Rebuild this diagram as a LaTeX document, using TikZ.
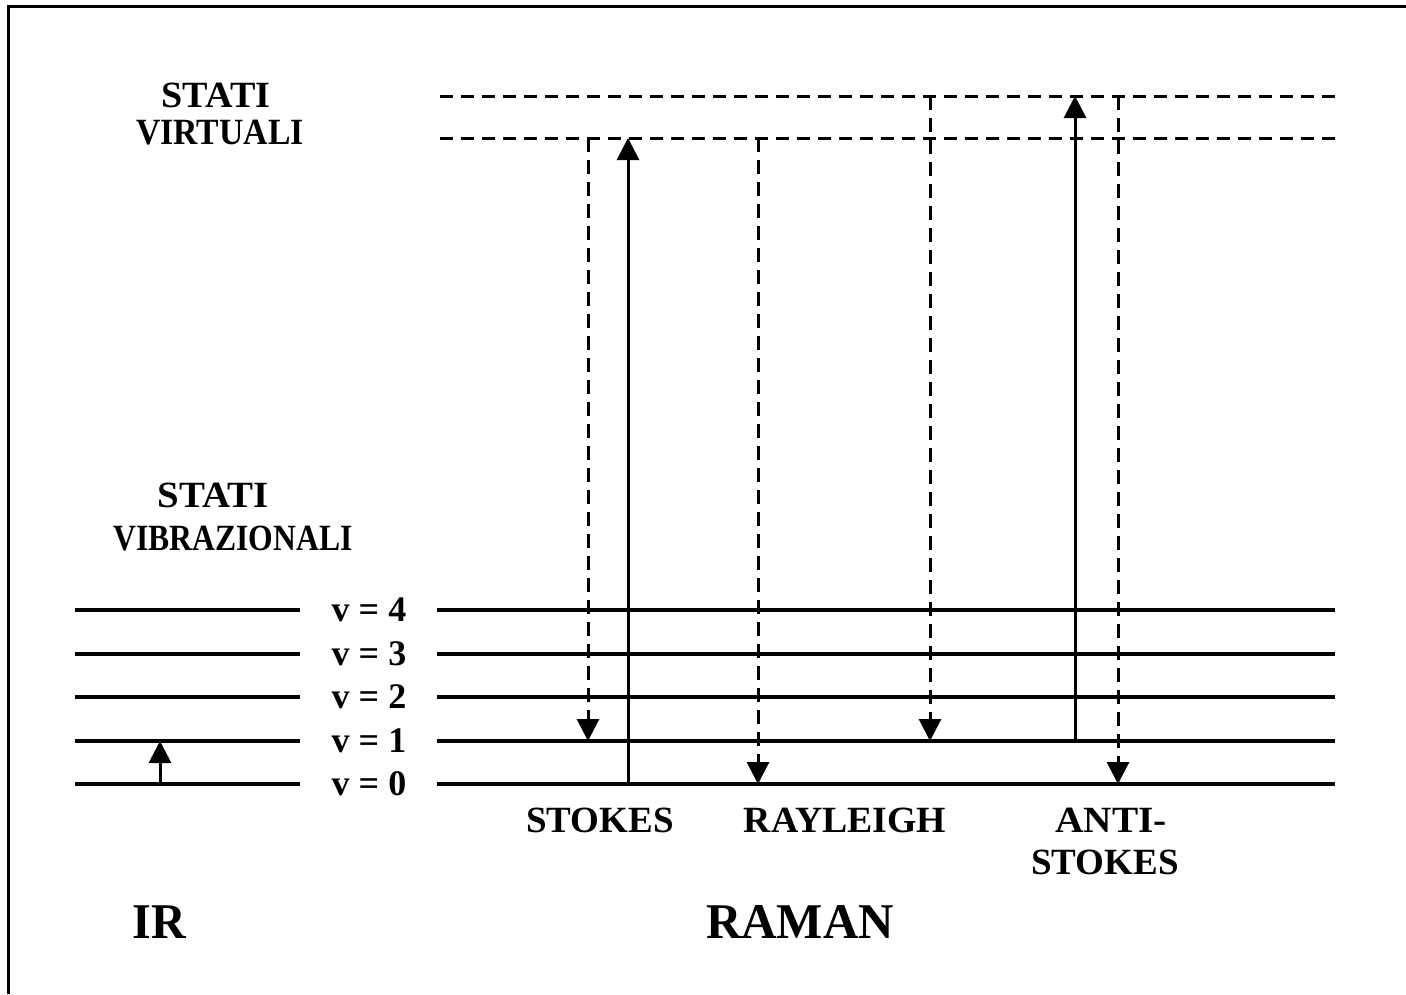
\documentclass[tikz,border=0pt]{standalone}
\usepackage{graphicx}
\usepackage{fontspec}
\setmainfont{Liberation Serif}
\usetikzlibrary{arrows.meta}
\newcommand{\hs}[2]{\scalebox{#1}[1]{#2}}
\begin{document}
\begin{tikzpicture}[x=1pt,y=-1pt,
  lvl/.style={line width=3.2pt},
  virt/.style={line width=3pt,dash pattern=on 13pt off 8pt},
  up/.style={line width=3pt,-{Triangle[width=22pt,length=22pt]}},
  down/.style={line width=3pt,dash pattern=on 14pt off 8pt,-{Triangle[width=22pt,length=22pt]}},
  lab/.style={inner sep=0pt,font=\bfseries\fontsize{37}{42}\selectfont},
  vlab/.style={inner sep=0pt,font=\bfseries\fontsize{36}{40}\selectfont},
  big/.style={inner sep=0pt,font=\bfseries\fontsize{50}{56}\selectfont}]
\useasboundingbox (0,0) rectangle (1406,994);
% frame
\draw[line width=3pt] (8,994) -- (8,6) -- (1406,6);
% vibrational levels
\foreach \n/\y in {4/610,3/654,2/697,1/741,0/784}{
  \coordinate (L\n a) at (75,\y);
  \coordinate (L\n b) at (300,\y);
  \coordinate (R\n a) at (437,\y);
  \coordinate (R\n b) at (1335,\y);
  \draw[lvl] (L\n a) -- (L\n b);
  \draw[lvl] (R\n a) -- (R\n b);
  \node[vlab] (v\n) at (369,\y) {v = \n};
}
% virtual levels
\coordinate (Va) at (440,96);  \coordinate (Vb) at (1335,96);
\coordinate (Wa) at (440,138); \coordinate (Wb) at (1335,138);
\draw[virt] (Va) -- (Vb);
\draw[virt] (Wa) -- (Wb);
% IR transition
\coordinate (ir0) at (160,784); \coordinate (ir1) at (160,741);
\draw[up] (ir0) -- (ir1);
% Stokes
\coordinate (s1) at (588,138); \coordinate (s2) at (588,741);
\coordinate (s3) at (628,784); \coordinate (s4) at (628,138);
\draw[down] (s1) -- (s2);
\draw[up] (s3) -- (s4);
% Rayleigh
\coordinate (r1) at (758,138); \coordinate (r2) at (758,784);
\coordinate (r3) at (930,96);  \coordinate (r4) at (930,741);
\draw[down] (r1) -- (r2);
\draw[down] (r3) -- (r4);
% Anti-Stokes
\coordinate (a1) at (1075,741); \coordinate (a2) at (1075,96);
\coordinate (a3) at (1118,96);  \coordinate (a4) at (1118,784);
\draw[up] (a1) -- (a2);
\draw[down] (a3) -- (a4);
% labels
\node[lab] (t1) at (216,95) {\hs{1.03}{STATI}};
\node[lab] (t2) at (220,133) {\hs{0.91}{VIRTUALI}};
\node[lab] (t3) at (213,495) {\hs{1.05}{STATI}};
\node[lab] (t4) at (233,539) {\hs{0.855}{VIBRAZIONALI}};
\node[lab] (t5) at (600,820) {STOKES};
\node[lab] (t6) at (845,820) {\hs{1.02}{RAYLEIGH}};
\node[lab] (t7) at (1111,820) {\hs{1.06}{ANTI-}};
\node[lab] (t8) at (1105,862) {STOKES};
\node[big] (t9) at (159,922) {\hs{0.96}{IR}};
\node[big] (t10) at (800,922) {\hs{0.98}{RAMAN}};
\end{tikzpicture}
\end{document}
